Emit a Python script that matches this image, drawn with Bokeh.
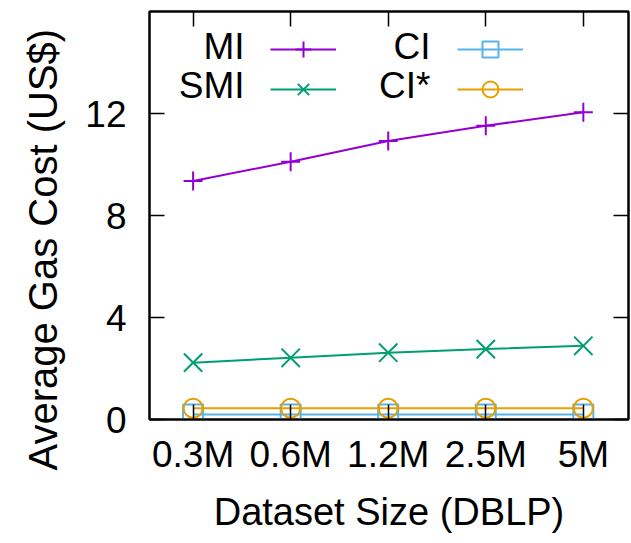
from bokeh.plotting import figure
from bokeh.models import (Range1d, FixedTicker, Legend, LegendItem, Label, LinearAxis,
                          ColumnDataSource, Title)
from bokeh.embed import file_html
from bokeh.resources import INLINE

# ---- data ----
sizes = ["0.3M", "0.6M", "1.2M", "2.5M", "5M"]
x_idx = [0, 1, 2, 3, 4]
mi = [9.35, 10.11, 10.92, 11.52, 12.05]
smi = [2.23, 2.42, 2.62, 2.76, 2.89]
ci = [0.20, 0.20, 0.20, 0.20, 0.20]
ci_star = [0.44, 0.44, 0.44, 0.44, 0.44]
y_ticks = [0, 4, 8, 12]

FONT = "Liberation Sans"

src = ColumnDataSource(dict(x=x_idx, mi=mi, smi=smi, ci=ci, ci_star=ci_star))

p = figure(width=631, height=543, output_backend="svg", toolbar_location=None,
           x_range=Range1d(-0.447, 4.463), y_range=Range1d(0, 16),
           x_axis_type=None, y_axis_type=None,
           min_border_left=148, min_border_right=3, min_border_top=11, min_border_bottom=124)
p.xgrid.visible = False
p.ygrid.visible = False
p.outline_line_color = "black"
p.outline_line_width = 2
p.background_fill_color = "white"
p.border_fill_color = "white"

xtick = FixedTicker(ticks=x_idx)
ytick = FixedTicker(ticks=y_ticks)

def style_axis(ax):
    ax.axis_line_color = "black"
    ax.axis_line_width = 2
    ax.major_tick_in = 15
    ax.major_tick_out = 0
    ax.major_tick_line_width = 1.5
    ax.major_tick_line_color = "black"
    ax.minor_tick_line_color = None
    ax.major_label_text_font = FONT
    ax.major_label_text_font_size = "37px"
    ax.major_label_text_color = "black"
    ax.axis_label_text_font = FONT
    ax.axis_label_text_font_size = "38px"
    ax.axis_label_text_font_style = "normal"
    ax.axis_label_text_color = "black"

xb = LinearAxis(ticker=xtick, major_label_overrides={i: s for i, s in zip(x_idx, sizes)},
                axis_label="Dataset Size (DBLP)")
style_axis(xb)
xb.major_label_standoff = 14
xb.axis_label_standoff = 13
p.add_layout(xb, "below")

yl = LinearAxis(ticker=ytick)
style_axis(yl)
yl.major_label_standoff = 23
p.add_layout(yl, "left")

# y-axis title as a side title, starting a little below the frame as in the reference
p.add_layout(Title(text="Average Gas Cost (US$)", align="left", offset=-51,
                   standoff=36, vertical_align="bottom",
                   text_font=FONT, text_font_size="40px", text_font_style="normal",
                   text_color="black"), "left")

xt = LinearAxis(ticker=xtick, major_label_overrides={i: "" for i in x_idx})
style_axis(xt)
xt.major_label_standoff = 0
xt.major_label_text_font_size = "1px"
p.add_layout(xt, "above")

yr = LinearAxis(ticker=ytick, major_label_overrides={t: "" for t in y_ticks})
style_axis(yr)
yr.major_label_standoff = 0
yr.major_label_text_font_size = "1px"
p.add_layout(yr, "right")

series = [
    ("MI", "mi", "#9400d3", "cross", 19),
    ("SMI", "smi", "#009e73", "x", 26),
    ("CI", "ci", "#56b4e9", "square", 20),
    ("CI*", "ci_star", "#e69f00", "circle", 19),
]
renders = {}
for name, col, color, marker, msize in series:
    ln = p.line("x", col, source=src, line_color=color, line_width=2)
    sc = p.scatter("x", col, source=src, marker=marker, size=msize, line_color=color,
                   fill_color=None, line_width=2)
    renders[name] = [ln, sc]

def make_legend(names, loc):
    lg = Legend(items=[LegendItem(label="", renderers=renders[n]) for n in names],
                location=loc, orientation="vertical", padding=0, margin=0, spacing=0,
                glyph_width=66, glyph_height=40, label_height=40, label_width=0,
                label_standoff=0, border_line_color=None, background_fill_alpha=0)
    p.add_layout(lg, "center")

make_legend(["MI", "SMI"], (121, 310))
make_legend(["CI", "CI*"], (308, 310))

for txt, x, y in [("MI", 95, 373), ("SMI", 95, 334), ("CI", 281, 373), ("CI*", 281, 334)]:
    p.add_layout(Label(x=x, y=y, x_units="screen", y_units="screen", text=txt,
                       text_align="right", text_baseline="alphabetic",
                       text_font=FONT, text_font_size="37px", text_color="black"))

open("out.html", "w").write(file_html(p, INLINE))
